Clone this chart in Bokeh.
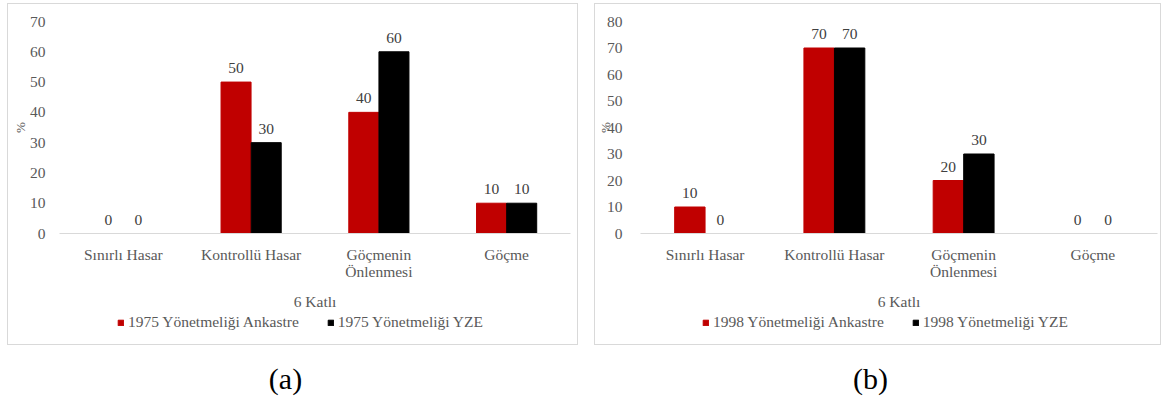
from bokeh.plotting import figure
from bokeh.models import (ColumnDataSource, FactorRange, LabelSet, Legend, LegendItem,
                          SingleIntervalTicker, Div, Range1d)
from bokeh.transform import dodge
from bokeh.layouts import row, column
from bokeh.embed import file_html
from bokeh.resources import INLINE

# ---------------- data ----------------
categories = ["Sınırlı Hasar", "Kontrollü Hasar", "Göçmenin\nÖnlenmesi", "Göçme"]
group_label = "6 Katlı"
y_label = "%"

a_series = ["1975 Yönetmeliği Ankastre", "1975 Yönetmeliği YZE"]
a_ankastre = [0, 50, 40, 10]
a_yze = [0, 30, 60, 10]
a_ymax = 70

b_series = ["1998 Yönetmeliği Ankastre", "1998 Yönetmeliği YZE"]
b_ankastre = [10, 70, 20, 0]
b_yze = [0, 70, 30, 0]
b_ymax = 80

y_step = 10
captions = ["(a)", "(b)"]

# ---------------- style ----------------
FONT = "Liberation Serif"
FS = "15.5px"
COLORS = ["#C00000", "#000000"]
GREY_TXT = "#595959"
LABEL_TXT = "#404040"
LINE_GREY = "#d9d9d9"
OFF = 0.118
BAR_W = 0.235


def panel(width, mb_left, mb_right, ymax, series, v1, v2, tick_standoff, ylab_standoff,
          legend_x, caption):
    src = ColumnDataSource(dict(cat=categories, v1=v1, v2=v2,
                                t1=[str(v) for v in v1], t2=[str(v) for v in v2]))
    p = figure(x_range=FactorRange(*categories), y_range=Range1d(0, ymax),
               width=width, height=310, output_backend="svg", toolbar_location=None,
               min_border_left=mb_left, min_border_right=mb_right,
               min_border_top=18, min_border_bottom=77,
               background_fill_color=None, border_fill_color=None,
               outline_line_color=None)
    r1 = p.vbar(x=dodge("cat", -OFF, range=p.x_range), top="v1", width=BAR_W,
                source=src, fill_color=COLORS[0], line_color=COLORS[0])
    r2 = p.vbar(x=dodge("cat", OFF, range=p.x_range), top="v2", width=BAR_W,
                source=src, fill_color=COLORS[1], line_color=COLORS[1])
    for xo, fld in ((-OFF, "1"), (OFF, "2")):
        p.add_layout(LabelSet(x=dodge("cat", xo, range=p.x_range), y="v" + fld,
                              text="t" + fld, source=src, y_offset=9,
                              text_align="center", text_baseline="bottom",
                              text_font=FONT, text_font_size=FS,
                              text_color=LABEL_TXT))
    p.xgrid.visible = False
    p.ygrid.visible = False

    ya = p.yaxis[0]
    ya.ticker = SingleIntervalTicker(interval=y_step)
    ya.axis_line_color = None
    ya.major_tick_line_color = None
    ya.minor_tick_line_color = None
    ya.major_label_standoff = tick_standoff
    ya.major_label_text_font = FONT
    ya.major_label_text_font_size = FS
    ya.major_label_text_color = GREY_TXT
    ya.axis_label = y_label
    ya.axis_label_text_font = FONT
    ya.axis_label_text_font_size = "13px"
    ya.axis_label_text_font_style = "normal"
    ya.axis_label_text_color = GREY_TXT
    ya.axis_label_standoff = ylab_standoff

    xa = p.xaxis[0]
    xa.axis_line_color = LINE_GREY
    xa.major_tick_line_color = None
    xa.minor_tick_line_color = None
    xa.major_label_standoff = 6
    xa.major_label_text_font = FONT
    xa.major_label_text_font_size = FS
    xa.major_label_text_line_height = 1.05
    xa.major_label_text_color = GREY_TXT
    xa.axis_label = group_label
    xa.axis_label_text_font = FONT
    xa.axis_label_text_font_size = FS
    xa.axis_label_text_font_style = "normal"
    xa.axis_label_text_color = GREY_TXT
    xa.axis_label_standoff = 10

    # legend strip under the chart; its key glyphs sit outside the visible range
    lg = figure(width=width, height=32, x_range=Range1d(0, 1), y_range=Range1d(0, 1),
                output_backend="svg", toolbar_location=None,
                x_axis_location=None, y_axis_location=None, min_border=0,
                background_fill_color=None, border_fill_color=None,
                outline_line_color=None)
    lg.xgrid.visible = False
    lg.ygrid.visible = False
    key_src = ColumnDataSource(dict(x=[-5], top=[0]))
    k1 = lg.vbar(x="x", top="top", width=0.1, source=key_src,
                 fill_color=COLORS[0], line_color=COLORS[0])
    k2 = lg.vbar(x="x", top="top", width=0.1, source=key_src,
                 fill_color=COLORS[1], line_color=COLORS[1])
    leg = Legend(items=[LegendItem(label=series[0], renderers=[k1]),
                        LegendItem(label=series[1], renderers=[k2])],
                 orientation="horizontal", location=(legend_x, 14),
                 padding=0, margin=0, spacing=28, label_standoff=4,
                 glyph_width=7, glyph_height=7,
                 label_text_font=FONT, label_text_font_size=FS,
                 label_text_color=GREY_TXT, border_line_color=None,
                 background_fill_alpha=0)
    lg.add_layout(leg)

    box = column(p, lg, spacing=0,
                 styles={"outline": f"1px solid {LINE_GREY}", "outline-offset": "-1px"})
    cap = Div(text=caption, width=width, height=45, margin=0,
              styles={"font-family": FONT, "font-size": "30px", "text-align": "center",
                      "color": "#000000", "padding-top": "13px", "padding-right": "14px",
                      "box-sizing": "border-box"})
    return column(box, cap, spacing=0)


pa = panel(571, 52, 8, a_ymax, a_series, a_ankastre, a_yze, 8, -1, 58, captions[0])
pb = panel(567, 46, 4, b_ymax, b_series, b_ankastre, b_yze, 12, -9, 62, captions[1])

layout = row(pa, pb, spacing=16, styles={"margin-left": "7px", "margin-top": "3px"})

open("out.html", "w").write(file_html(layout, INLINE))
